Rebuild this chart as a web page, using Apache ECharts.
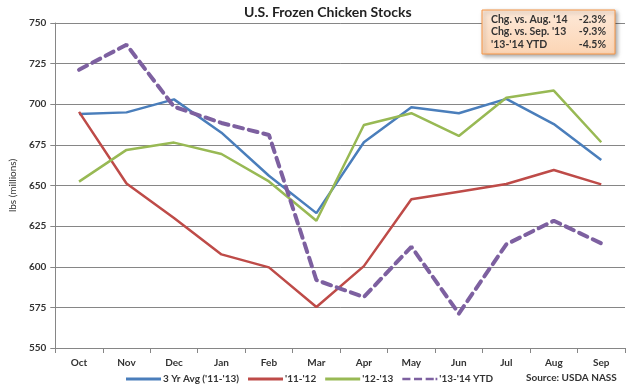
<!DOCTYPE html>
<html><head><meta charset="utf-8">
<script src="https://cdn.jsdelivr.net/npm/echarts@6/dist/echarts.min.js"></script>
<style>html,body{margin:0;padding:0;background:#fff}#c{width:628px;height:388px}</style>
</head><body><div id="c"></div>
<script>
const categories = ['Oct','Nov','Dec','Jan','Feb','Mar','Apr','May','Jun','Jul','Aug','Sep'];
const avg3yr = [694, 695, 703, 682.5, 656, 633, 676.6, 698.2, 694.5, 703.3, 687.8, 665.7];
const s1112 = [695.3, 651.2, 630, 607.6, 599.6, 575.2, 600.4, 641.5, 646.2, 650.9, 659.5, 650.7];
const s1213 = [652.4, 671.9, 676.4, 669.4, 652.5, 628.3, 687.2, 694.5, 680.5, 704, 708.4, 676.6];
const s1314 = [721.2, 736.6, 698.5, 688.5, 681.1, 591.8, 581.4, 612.3, 571.2, 613.8, 628.3, 614.4];
const yTicks = [550, 575, 600, 625, 650, 675, 700, 725, 750];
const seriesNames = ["3 Yr Avg ('11-'13)", "'11-'12", "'12-'13", "'13-'14 YTD"];
const boxRows = [["Chg. vs. Aug. '14", "-2.3%"], ["Chg. vs. Sep. '13", "-9.3%"], ["'13-'14 YTD", "-4.5%"]];

const FONT = 'Lato, "Open Sans", sans-serif';
const colors = ['#4a7ebb', '#be4b48', '#98b954', '#7d60a0'];
const chart = echarts.init(document.getElementById('c'), null, {renderer: 'canvas'});
const data = [avg3yr, s1112, s1213, s1314];

const boxX = 482, boxY = 10, boxW = 133, boxH = 44;
const graphics = [
  {type: 'rect', shape: {x: boxX, y: boxY, width: boxW, height: boxH},
   style: {fill: new echarts.graphic.LinearGradient(0, 0, 0, 1, [{offset: 0, color: '#fde9d9'}, {offset: 1, color: '#fcd5b4'}]),
           stroke: '#f79646', lineWidth: 1, shadowBlur: 4, shadowOffsetX: 2, shadowOffsetY: 2, shadowColor: 'rgba(0,0,0,0.35)'}, z: 10},
  {type: 'text', left: 244, top: 5, style: {text: 'U.S. Frozen Chicken Stocks', font: 'bold 14px ' + FONT, fill: '#222'}, z: 10},
  {type: 'text', left: 526, top: 373, style: {text: 'Source: USDA NASS', font: 'bold 10px ' + FONT, fill: '#333'}, z: 10}
];
boxRows.forEach((r, i) => {
  graphics.push({type: 'text', x: boxX + 9, y: boxY + 4 + i * 12.5, style: {text: r[0], font: 'bold 10.5px ' + FONT, fill: '#333'}, z: 11});
  graphics.push({type: 'text', x: boxX + boxW - 9, y: boxY + 4 + i * 12.5, style: {text: r[1], font: 'bold 10.5px ' + FONT, fill: '#333', align: 'right'}, z: 11});
});

const lineIcon = 'path://M0,0h36v3h-36z';
const dashIcon = 'path://M0,0h9v3h-9z M13,0h9v3h-9z M26,0h9v3h-9z M37,0h2v3h-2z';

chart.setOption({
  animation: false,
  textStyle: {fontFamily: FONT},
  grid: {left: 46, right: 3, top: 23, bottom: 40, containLabel: false},
  legend: {
    left: 121, top: 369, itemWidth: 35, itemHeight: 3, itemGap: 9,
    textStyle: {fontSize: 10, fontWeight: 'bold', color: '#333', fontFamily: FONT, padding: [0, 0, 0, -3]},
    data: seriesNames.map((n, i) => ({name: n, icon: i === 3 ? dashIcon : lineIcon}))
  },
  xAxis: {
    type: 'category', data: categories, boundaryGap: true,
    axisLine: {lineStyle: {color: '#868686', width: 1}},
    axisTick: {show: true, length: 5, lineStyle: {color: '#868686'}},
    axisLabel: {fontSize: 10, fontWeight: 'bold', color: '#333', margin: 10}
  },
  yAxis: {
    type: 'value', min: 550, max: 750, interval: 25,
    name: 'lbs (millions)', nameLocation: 'middle', nameGap: 31, nameRotate: 90,
    nameTextStyle: {fontSize: 10, color: '#333', fontFamily: FONT},
    axisLine: {show: true, lineStyle: {color: '#868686'}},
    axisTick: {show: true, length: 5, inside: false, lineStyle: {color: '#868686'}},
    splitLine: {lineStyle: {color: '#868686', width: 1}},
    axisLabel: {fontSize: 10, fontWeight: 'bold', color: '#333', margin: 9,
                formatter: v => yTicks.includes(v) ? String(v) : ''}
  },
  series: seriesNames.map((n, i) => ({
    name: n, type: 'line', data: data[i], symbol: 'none', smooth: false,
    itemStyle: {color: colors[i]},
    lineStyle: i === 3 ? {color: colors[i], width: 4, type: [9, 6], cap: 'round'} : {color: colors[i], width: 2.5},
    z: i === 3 ? 5 : 3
  })),
  graphic: graphics
});
</script></body></html>
